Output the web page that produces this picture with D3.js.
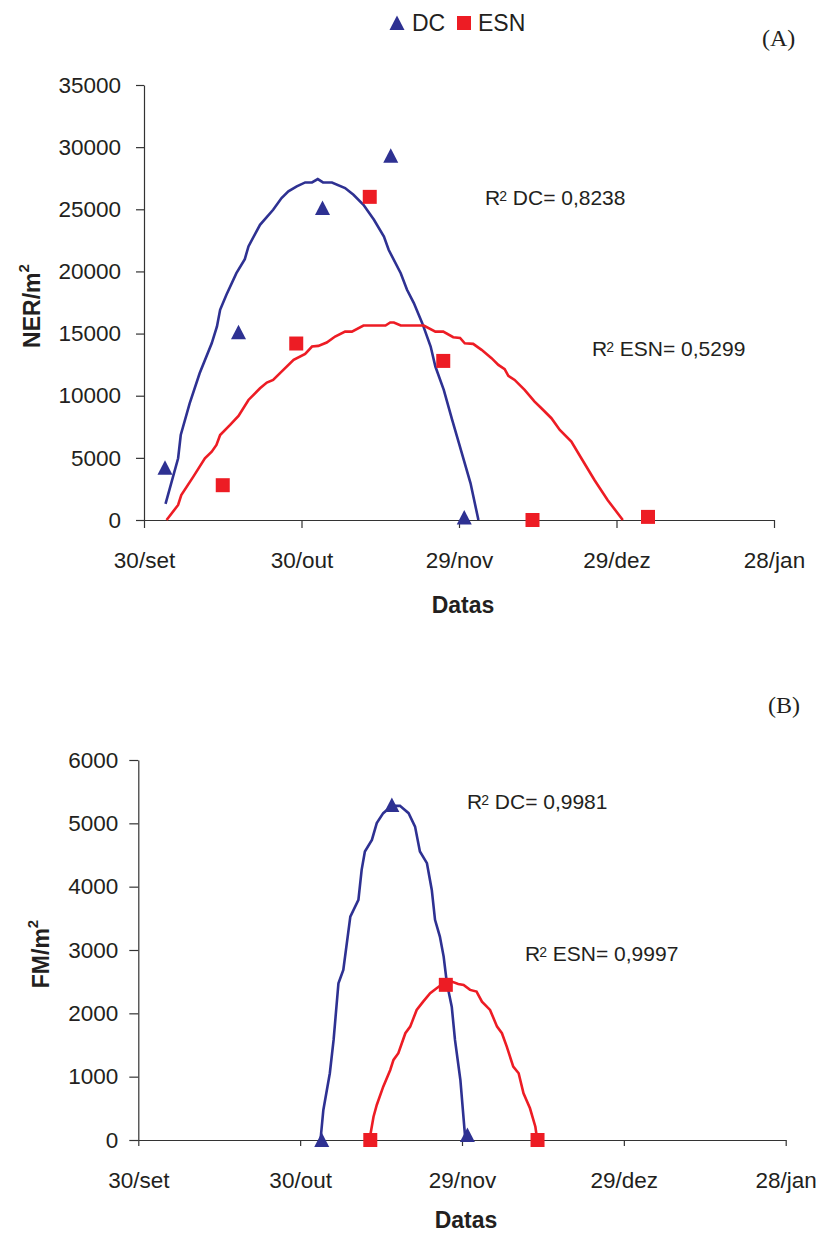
<!DOCTYPE html>
<html>
<head>
<meta charset="utf-8">
<script src="https://cdn.jsdelivr.net/npm/d3@7"></script>
<style>
  body { margin: 0; background: #fff; }
  svg { display: block; font-family: "Liberation Sans", Arial, sans-serif; }
</style>
</head>
<body>
<svg width="829" height="1235"></svg>
<script>
// x axis: days after 30/set
var tickDays = [0, 30, 60, 90, 120];
var tickLabels = ["30/set", "30/out", "29/nov", "29/dez", "28/jan"];

// (A) NER/m2 observed
var dcDays = [4, 18, 34, 47, 61];
var dcNER = [4200, 15100, 25100, 29300, 200];
var esnDays = [15, 29, 43, 57, 74, 96];
var esnNER = [2800, 14200, 26000, 12800, 0, 250];

// (A) trend lines as drawn
var dcTrendDaysA = [4.1, 6.5, 7.0, 8.7, 10.6, 12.9, 13.9, 14.5, 15.7, 17.6, 19.2, 19.9, 22.1, 24.6, 26.2, 27.5, 29.1, 30.7, 32.0, 33.1, 34.1, 35.8, 38.3, 39.9, 41.8, 43.8, 45.7, 46.6, 48.9, 50.1, 51.4, 53.0, 54.6, 55.5, 57.1, 58.7, 60.0, 62.2, 63.7];
var dcTrendA = [1290, 4970, 6840, 9390, 11810, 14220, 15570, 16910, 18120, 19860, 20990, 22010, 23750, 24960, 25900, 26440, 26840, 27160, 27160, 27430, 27160, 27160, 26710, 26170, 25360, 24160, 22810, 21740, 19860, 18520, 17450, 15840, 13960, 12350, 10470, 8050, 6170, 2950, 0];
var esnTrendDaysA = [4.3, 6.5, 7.1, 9.4, 11.6, 12.9, 13.8, 14.5, 16.4, 18.0, 19.9, 22.1, 23.4, 24.6, 26.2, 28.5, 30.7, 32.0, 33.2, 34.8, 36.4, 38.3, 39.6, 41.8, 46.0, 46.9, 47.6, 48.9, 53.3, 55.5, 57.0, 58.9, 60.2, 61.1, 62.7, 64.3, 66.2, 67.5, 68.7, 69.4, 70.6, 72.5, 74.4, 75.7, 77.6, 79.2, 81.4, 83.3, 85.8, 88.3, 91.2];
var esnTrendA = [0, 1210, 2010, 3490, 4970, 5500, 6040, 6840, 7650, 8370, 9660, 10600, 11060, 11270, 11940, 12880, 13370, 13960, 14010, 14280, 14760, 15160, 15160, 15650, 15650, 15890, 15890, 15650, 15650, 15160, 15160, 14710, 14650, 14220, 14170, 13690, 13020, 12480, 12130, 11590, 11270, 10470, 9530, 8990, 8190, 7250, 6310, 4970, 3220, 1610, 0];

// (B) FM/m2 observed
var dcFMDays = [34, 47, 61];
var dcFM = [0, 5290, 80];
var esnFMDays = [43, 57, 74];
var esnFM = [0, 2450, 0];

// (B) trend lines as drawn
var dcTrendDaysB = [33.8, 34.3, 35.5, 36.2, 37.1, 38.0, 39.3, 40.8, 41.4, 42.0, 43.3, 44.2, 45.4, 47.0, 48.5, 50.1, 51.3, 52.2, 53.5, 54.4, 55.0, 55.9, 56.6, 57.2, 58.1, 58.7, 59.7, 60.6];
var dcTrendB = [27, 474, 1054, 1580, 2476, 2686, 3528, 3791, 4265, 4555, 4739, 5003, 5161, 5276, 5276, 5161, 4949, 4555, 4371, 3949, 3476, 3212, 2896, 2476, 2106, 1580, 948, 27];
var esnTrendDaysB = [42.9, 43.6, 44.2, 45.4, 46.7, 47.3, 48.2, 49.5, 50.4, 51.6, 52.8, 54.1, 55.3, 56.6, 58.1, 59.3, 60.3, 61.5, 62.7, 63.7, 65.2, 66.5, 67.4, 68.3, 69.5, 70.5, 71.4, 72.6, 73.6, 73.9];
var esnTrendB = [27, 368, 553, 842, 1106, 1264, 1370, 1686, 1790, 2054, 2185, 2318, 2397, 2476, 2501, 2464, 2449, 2370, 2343, 2185, 2054, 1790, 1686, 1474, 1158, 1054, 738, 501, 210, 27];

var BLUE = "#2e3192", RED = "#ed1c24";
var svg = d3.select("svg");

var tri = "M0,-7.5L7.5,7L-7.5,7Z";
var sq = "M-7,-7H7V7H-7Z";

function zip(a, b) {
    return a.map(function(d, i) { return [d, b[i]]; });
}

function drawPanel(p) {
    var x = d3.scaleLinear().domain([0, 120]).range([p.left, p.right]);
    var y = d3.scaleLinear().domain([0, p.max]).range([p.bottom, p.top]);
    var g = svg.append("g");

    // y axis
    var ya = g.append("g")
        .attr("transform", "translate(" + p.left + ",0)")
        .call(d3.axisLeft(y).tickValues(p.yTicks).tickFormat(d3.format("d"))
            .tickSize(p.yTickLen).tickPadding(p.yPad).tickSizeOuter(0));
    // x axis
    var xa = g.append("g")
        .attr("transform", "translate(0," + p.bottom + ")")
        .call(d3.axisBottom(x).tickValues(tickDays).tickFormat(function(d, i) { return tickLabels[i]; })
            .tickSize(p.xTickLen).tickPadding(p.xPad).tickSizeOuter(0));
    [ya, xa].forEach(function(a) {
        a.select(".domain").attr("stroke", "#333").attr("stroke-width", 1.2);
        a.selectAll(".tick line").attr("stroke", "#333").attr("stroke-width", 1.2);
        a.selectAll("text").attr("font-size", 22.5).attr("fill", "#231f20")
            .attr("font-family", "Liberation Sans, Arial, sans-serif");
    });

    var line = d3.line().x(function(d) { return x(d[0]); }).y(function(d) { return y(d[1]); });

    g.append("path").datum(zip(p.dcTD, p.dcT))
        .attr("d", line).attr("fill", "none").attr("stroke", BLUE).attr("stroke-width", 2.6);
    g.append("path").datum(zip(p.esnTD, p.esnT))
        .attr("d", line).attr("fill", "none").attr("stroke", RED).attr("stroke-width", 2.6);

    g.selectAll(".dc").data(zip(p.dcD, p.dcV)).enter().append("path")
        .attr("d", tri).attr("fill", BLUE)
        .attr("transform", function(d) { return "translate(" + x(d[0]) + "," + y(d[1]) + ")"; });
    g.selectAll(".esn").data(zip(p.esnD, p.esnV)).enter().append("path")
        .attr("d", sq).attr("fill", RED)
        .attr("transform", function(d) { return "translate(" + x(d[0]) + "," + y(d[1]) + ")"; });

    // axis titles
    g.append("text").attr("x", (p.left + p.right) / 2 + 4).attr("y", p.bottom + p.dtY)
        .attr("text-anchor", "middle").attr("font-weight", "bold").attr("font-size", 23)
        .attr("fill", "#231f20").text("Datas");
    var yt = g.append("text")
        .attr("transform", "translate(" + p.ytX + "," + p.ytY + ") rotate(-90)")
        .attr("text-anchor", "middle").attr("font-weight", "bold").attr("font-size", 23)
        .attr("fill", "#231f20");
    yt.append("tspan").text(p.yTitle);
    yt.append("tspan").attr("font-size", 15).attr("dy", -11).text("2");

    // R2 labels
    p.r2.forEach(function(r) {
        var t = g.append("text").attr("x", r.x).attr("y", r.y).attr("font-size", 21).attr("fill", "#231f20");
        t.append("tspan").text("R");
        t.append("tspan").attr("font-size", 14).attr("dy", -4).attr("dx", -1).text("2");
        t.append("tspan").attr("dy", 4).text(" " + r.label);
    });

    g.append("text").attr("x", p.tagX).attr("y", p.tagY).attr("font-size", 24)
        .attr("font-family", "Liberation Serif, 'Times New Roman', serif").attr("fill", "#231f20").text(p.tag);
}

drawPanel({
    left: 144, right: 774, top: 85, bottom: 520, max: 35000,
    yTicks: d3.range(0, 35001, 5000), yTickLen: 8, yPad: 15, xTickLen: 8, xPad: 24, dtY: 93,
    dcD: dcDays, dcV: dcNER, esnD: esnDays, esnV: esnNER,
    dcTD: dcTrendDaysA, dcT: dcTrendA, esnTD: esnTrendDaysA, esnT: esnTrendA,
    yTitle: "NER/m", ytX: 40, ytY: 306,
    r2: [{x: 485, y: 205, label: "DC= 0,8238"}, {x: 592, y: 356, label: "ESN= 0,5299"}],
    tag: "(A)", tagX: 762, tagY: 46
});

drawPanel({
    left: 138.3, right: 785.7, top: 760, bottom: 1140, max: 6000,
    yTicks: d3.range(0, 6001, 1000), yTickLen: 9, yPad: 11, xTickLen: 6, xPad: 26, dtY: 88,
    dcD: dcFMDays, dcV: dcFM, esnD: esnFMDays, esnV: esnFM,
    dcTD: dcTrendDaysB, dcT: dcTrendB, esnTD: esnTrendDaysB, esnT: esnTrendB,
    yTitle: "FM/m", ytX: 49, ytY: 954,
    r2: [{x: 467, y: 809, label: "DC= 0,9981"}, {x: 525, y: 961, label: "ESN= 0,9997"}],
    tag: "(B)", tagX: 768, tagY: 713
});

// legend
var lg = svg.append("g");
lg.append("path").attr("d", tri).attr("fill", BLUE).attr("transform", "translate(397,23)");
lg.append("text").attr("x", 412).attr("y", 31).attr("font-size", 23).attr("fill", "#231f20").text("DC");
lg.append("path").attr("d", sq).attr("fill", RED).attr("transform", "translate(464,23)");
lg.append("text").attr("x", 478).attr("y", 31).attr("font-size", 23).attr("fill", "#231f20").text("ESN");
</script>
</body>
</html>
